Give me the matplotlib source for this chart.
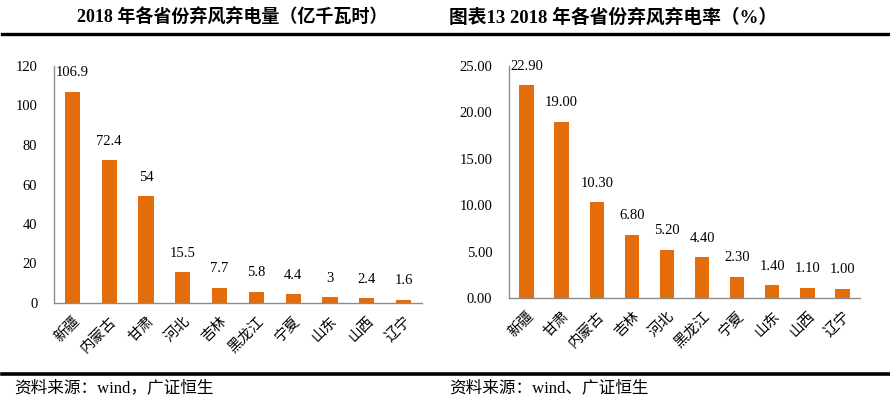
import numpy as np
import matplotlib
matplotlib.use("Agg")
import matplotlib.pyplot as plt
from matplotlib.lines import Line2D

# 数据
prov_left = ['新疆', '内蒙古', '甘肃', '河北', '吉林', '黑龙江', '宁夏', '山东', '山西', '辽宁']
vals_left = [106.9, 72.4, 54, 15.5, 7.7, 5.8, 4.4, 3, 2.4, 1.6]
labels_left = ['106.9', '72.4', '54', '15.5', '7.7', '5.8', '4.4', '3', '2.4', '1.6']

prov_right = ['新疆', '甘肃', '内蒙古', '吉林', '河北', '黑龙江', '宁夏', '山东', '山西', '辽宁']
vals_right = [22.90, 19.00, 10.30, 6.80, 5.20, 4.40, 2.30, 1.40, 1.10, 1.00]

title_left = '2018 年各省份弃风弃电量（亿千瓦时）'
title_right = '图表13 2018 年各省份弃风弃电率（%）'
src_left = '资料来源：wind，广证恒生'
src_right = '资料来源：wind、广证恒生'

FONT = ['Liberation Serif', 'Noto Sans CJK SC', 'DejaVu Sans']
plt.rcParams['font.family'] = FONT
BAR = '#E46C0A'
AXC = '#8C8C8C'

W, H = 890, 399
fig = plt.figure(figsize=(W / 100, H / 100), dpi=100)


def px_axes(x0, x1, ytop, ybot):
    return fig.add_axes([x0 / W, (H - ybot) / H, (x1 - x0) / W, (ybot - ytop) / H])


def draw(ax, cats, vals, texts, ymax, step, fmt):
    x = np.arange(len(cats))
    ax.bar(x, vals, width=0.41, color=BAR)
    for xi, v, t in zip(x, vals, texts):
        ax.annotate(t, (xi, v), xytext=(0, 9), textcoords='offset points',
                    ha='center', va='bottom', fontsize=10.5, family=FONT)
    ax.set_xlim(-0.5, len(cats) - 0.5)
    ax.set_ylim(0, ymax)
    ax.set_yticks(np.arange(0, ymax + step / 2, step))
    ax.set_yticklabels([fmt.format(v) for v in np.arange(0, ymax + step / 2, step)],
                       fontsize=10.5)
    ax.set_xticks(x)
    ax.set_xticklabels(cats, rotation=45, ha='right', rotation_mode='anchor',
                       fontsize=10.5, family=['Noto Sans CJK SC'])
    ax.tick_params(axis='both', length=0)
    ax.tick_params(axis='y', pad=12)
    ax.tick_params(axis='x', pad=8)
    for s in ['top', 'right']:
        ax.spines[s].set_visible(False)
    for s in ['left', 'bottom']:
        ax.spines[s].set_color(AXC)
        ax.spines[s].set_linewidth(1.0)
    ax.patch.set_alpha(0)


axl = px_axes(54, 422, 66, 303)
draw(axl, prov_left, vals_left, labels_left, 120, 20, '{:.0f}')

axr = px_axes(509, 860, 66, 298)
draw(axr, prov_right, vals_right, ['{:.2f}'.format(v) for v in vals_right], 25, 5, '{:.2f}')

# 标题与横线
fig.text(232 / W, 1 - 18 / H, title_left, ha='center', va='center',
         fontsize=13, fontweight='bold')
fig.text(449 / W, 1 - 18 / H, title_right, ha='left', va='center',
         fontsize=13.5, fontweight='bold')
fig.add_artist(Line2D([2 / W, 1], [1 - 33.5 / H] * 2, color='black', lw=2.4))
fig.add_artist(Line2D([2 / W, 1], [1 - 374 / H] * 2, color='black', lw=2.6))

fig.text(14 / W, 1 - 388 / H, src_left, ha='left', va='center', fontsize=12)
fig.text(449 / W, 1 - 388 / H, src_right, ha='left', va='center', fontsize=12)

fig.savefig('out.png', dpi=100, facecolor='white')
